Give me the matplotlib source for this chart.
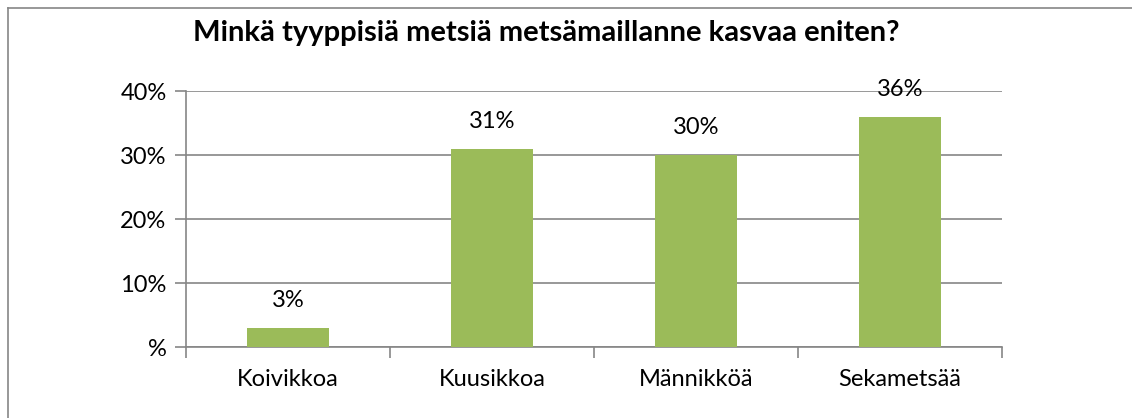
import matplotlib.pyplot as plt
from matplotlib.lines import Line2D

categories = ["Koivikkoa", "Kuusikkoa", "Männikköä", "Sekametsää"]
values = [3, 31, 30, 36]
yticks = [0, 10, 20, 30, 40]
ytick_labels = ["%", "10%", "20%", "30%", "40%"]

plt.rcParams['font.family'] = ['Lato', 'DejaVu Sans']

W, H = 1132, 418
fig = plt.figure(figsize=(W / 100, H / 100), dpi=100)
ax = fig.add_axes([186 / W, 1 - 347 / H, (1002 - 186) / W, (347 - 91) / H])

gray = "#868686"
x = range(len(categories))
ax.bar(x, values, width=0.4, color="#9bbb59", zorder=3)
for i, v in enumerate(values):
    ax.text(i, v + 4.3, f"{v}%", ha="center", va="center", fontsize=17)

ax.set_xlim(-0.5, len(categories) - 0.5)
ax.set_ylim(0, 40)
ax.set_yticks(yticks)
ax.set_yticklabels(ytick_labels, fontsize=17)
ax.yaxis.grid(True, color=gray, linewidth=1.2, zorder=0)
ax.set_xticks(list(x))
ax.set_xticklabels(categories, fontsize=17)
ax.tick_params(axis="x", length=0, pad=16)
ax.tick_params(axis="y", length=8, color=gray, width=1.2, pad=6)
# category boundary ticks
ax.set_xticks([i - 0.5 for i in range(len(categories) + 1)], minor=True)
ax.tick_params(axis="x", which="minor", length=8, color=gray, width=1.2)

for s in ["top", "right"]:
    ax.spines[s].set_visible(False)
for s in ["left", "bottom"]:
    ax.spines[s].set_color(gray)
    ax.spines[s].set_linewidth(1.2)

fig.text(546 / W, 1 - 33 / H, "Minkä tyyppisiä metsiä metsämaillanne kasvaa eniten?",
         ha="center", va="center", fontsize=21, fontweight="bold")

# outer chart frame (top and left edges visible)
fig.add_artist(Line2D([8 / W, 1], [1 - 8 / H, 1 - 8 / H], color=gray, linewidth=1.2))
fig.add_artist(Line2D([8 / W, 8 / W], [0, 1 - 8 / H], color=gray, linewidth=1.2))

fig.savefig("out.png", dpi=100)
